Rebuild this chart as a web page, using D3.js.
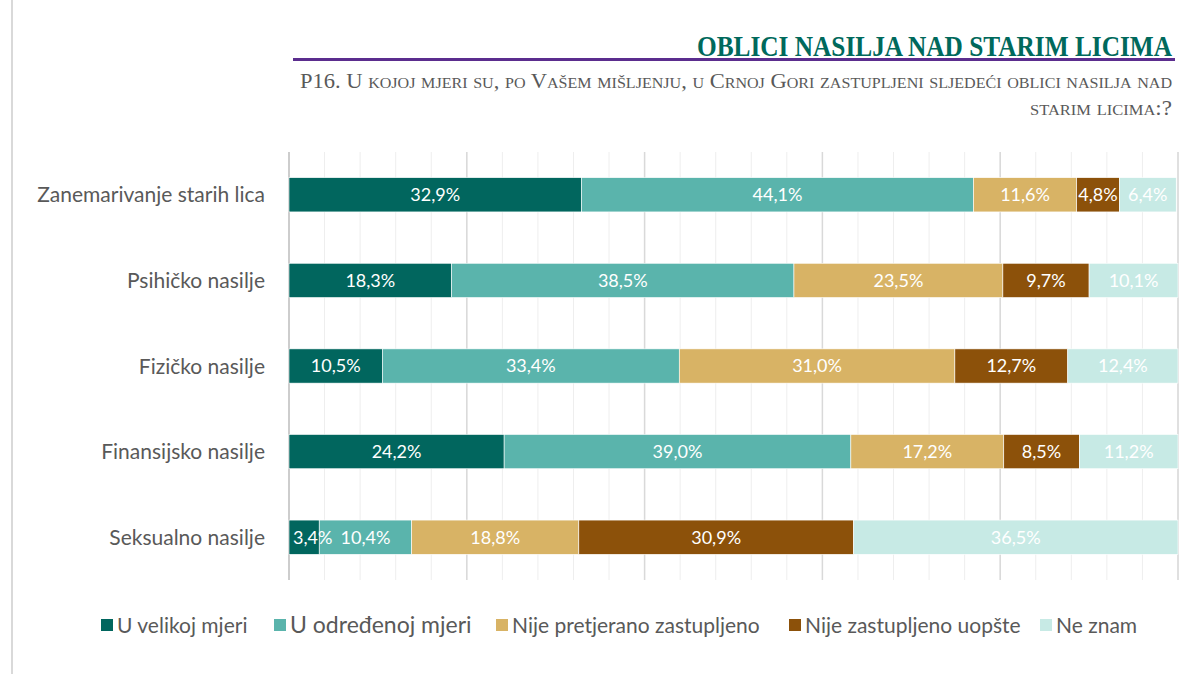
<!DOCTYPE html>
<html>
	<head>
		<meta charset="utf-8" />
		<script type="text/javascript" src="https://cdn.jsdelivr.net/npm/d3@7"></script>
		<style>
body {
	margin: 0;
	background-color: white;
}

text.category {
	text-anchor: end;
	fill: #595959;
	font-family: Lato, "Liberation Sans", sans-serif;
	font-size: 21px;
}

text.value {
	text-anchor: middle;
	fill: white;
	font-family: Lato, "Liberation Sans", sans-serif;
	font-size: 18px;
}

text.legend {
	fill: #595959;
	font-family: Lato, "Liberation Sans", sans-serif;
	font-size: 21px;
}

text.title {
	text-anchor: end;
	fill: #00695c;
	font-family: "Liberation Serif", serif;
	font-weight: bold;
	font-size: 29px;
}

text.subtitle {
	text-anchor: end;
	fill: #595959;
	font-family: "Liberation Serif", serif;
	font-variant: small-caps;
	font-size: 21px;
}
		</style>
	</head>
	<body>
		<script>

var categories = [
	"Zanemarivanje starih lica",
	"Psihičko nasilje",
	"Fizičko nasilje",
	"Finansijsko nasilje",
	"Seksualno nasilje"
];

var series = [
	"U velikoj mjeri",
	"U određenoj mjeri",
	"Nije pretjerano zastupljeno",
	"Nije zastupljeno uopšte",
	"Ne znam"
];

// one array per series, in category order
var uVelikoj = [32.9, 18.3, 10.5, 24.2, 3.4];
var uOdredjenoj = [44.1, 38.5, 33.4, 39.0, 10.4];
var nijePretjerano = [11.6, 23.5, 31.0, 17.2, 18.8];
var nijeUopste = [4.8, 9.7, 12.7, 8.5, 30.9];
var neZnam = [6.4, 10.1, 12.4, 11.2, 36.5];

var values = [uVelikoj, uOdredjenoj, nijePretjerano, nijeUopste, neZnam];

var colors = ["#01665e", "#5ab4ac", "#d8b365", "#8c510a", "#c7eae5"];

var majorTicks = [0, 20, 40, 60, 80, 100];
var minorTicks = d3.range(0, 101, 4);

var w = 1185;
var h = 674;

var plotLeft = 289;
var plotRight = 1178;
var plotTop = 152;
var plotBottom = 580;

var svg = d3.select("body").append("svg")
	.attr("width", w)
	.attr("height", h);

// page border on the left
svg.append("line")
	.attr("x1", 12).attr("x2", 12)
	.attr("y1", 0).attr("y2", h)
	.style("stroke", "#d9d9d9")
	.style("stroke-width", 2);

// title block
svg.append("text").attr("class", "title")
	.attr("x", 1172)
	.attr("y", 55.5)
	.attr("textLength", 475)
	.attr("lengthAdjust", "spacingAndGlyphs")
	.text("OBLICI NASILJA NAD STARIM LICIMA");

svg.append("line")
	.attr("x1", 293).attr("x2", 1175)
	.attr("y1", 59.5).attr("y2", 59.5)
	.style("stroke", "#5b2d8e")
	.style("stroke-width", 3);

svg.append("text").attr("class", "subtitle")
	.attr("x", 1172)
	.attr("y", 88)
	.attr("textLength", 872)
	.attr("lengthAdjust", "spacingAndGlyphs")
	.text("P16. U kojoj mjeri su, po Vašem mišljenju, u Crnoj Gori zastupljeni sljedeći oblici nasilja nad");

svg.append("text").attr("class", "subtitle")
	.attr("x", 1172)
	.attr("y", 115)
	.attr("textLength", 142)
	.attr("lengthAdjust", "spacingAndGlyphs")
	.text("starim licima:?");

var x = d3.scaleLinear()
	.domain([0, 100])
	.range([plotLeft, plotRight])
	.clamp(true);

var y = d3.scaleBand()
	.domain(categories)
	.range([plotTop, plotBottom])
	.paddingInner(0.6)
	.paddingOuter(0.3);

// gridlines
svg.selectAll("line.minor").data(minorTicks).enter().append("line")
	.attr("class", "minor")
	.attr("x1", function(d) { return x(d); })
	.attr("x2", function(d) { return x(d); })
	.attr("y1", plotTop)
	.attr("y2", plotBottom)
	.style("stroke", "#eeeeee")
	.style("stroke-width", 1);

svg.selectAll("line.major").data(majorTicks).enter().append("line")
	.attr("class", "major")
	.attr("x1", function(d) { return x(d); })
	.attr("x2", function(d) { return x(d); })
	.attr("y1", plotTop)
	.attr("y2", plotBottom)
	.style("stroke", function(d) { return d === 0 ? "#bfbfbf" : "#d9d9d9"; })
	.style("stroke-width", 1.5);

// stacked segments
var rows = categories.map(function(c, i) {
	var start = 0;
	return values.map(function(s, k) {
		var seg = { cat: c, k: k, v: s[i], x0: start, x1: start + s[i] };
		start += s[i];
		return seg;
	});
});
var segs = [].concat.apply([], rows);

svg.selectAll("rect.seg").data(segs).enter().append("rect")
	.attr("class", "seg")
	.attr("x", function(d) { return x(d.x0); })
	.attr("y", function(d) { return y(d.cat); })
	.attr("width", function(d) { return x(d.x1) - x(d.x0); })
	.attr("height", y.bandwidth())
	.style("fill", function(d) { return colors[d.k]; })
	.style("stroke", "white")
	.style("stroke-width", 0.6);

var labels = svg.selectAll("text.value").data(segs).enter().append("text")
	.attr("class", "value")
	.attr("x", function(d) { return (x(d.x0) + x(d.x1)) / 2; })
	.attr("y", function(d) { return y(d.cat) + y.bandwidth() / 2; })
	.attr("dy", "0.36em")
	.text(function(d) { return d.v.toFixed(1).replace(".", ",") + "%"; });

// keep labels inside the plot and nudge crowded ones to the right
var lastRight = {};
labels.each(function(d) {
	var tw = this.getComputedTextLength();
	var cx = (x(d.x0) + x(d.x1)) / 2;
	var left = Math.max(cx - tw / 2, plotLeft + 4);
	if (lastRight[d.cat] !== undefined && left < lastRight[d.cat] + 8) {
		left = lastRight[d.cat] + 8;
	}
	lastRight[d.cat] = left + tw;
	d3.select(this).attr("x", left + tw / 2);
});

svg.selectAll("text.category").data(categories).enter().append("text")
	.attr("class", "category")
	.attr("x", 265)
	.attr("y", function(d) { return y(d) + y.bandwidth() / 2; })
	.attr("dy", "0.36em")
	.text(function(d) { return d; });

// legend
var legendX = [101, 274, 496, 789, 1040];
var legend = svg.selectAll("g.legend").data(series).enter().append("g")
	.attr("transform", function(d, i) { return "translate(" + legendX[i] + ",625)"; });

legend.append("rect")
	.attr("x", 0)
	.attr("y", -6)
	.attr("width", 12)
	.attr("height", 12)
	.style("fill", function(d, i) { return colors[i]; });

legend.append("text").attr("class", "legend")
	.attr("x", 16)
	.attr("dy", "0.36em")
	.style("font-size", function(d, i) { return i === 1 ? "23px" : null; })
	.text(function(d) { return d; });

		</script>
	</body>
</html>
